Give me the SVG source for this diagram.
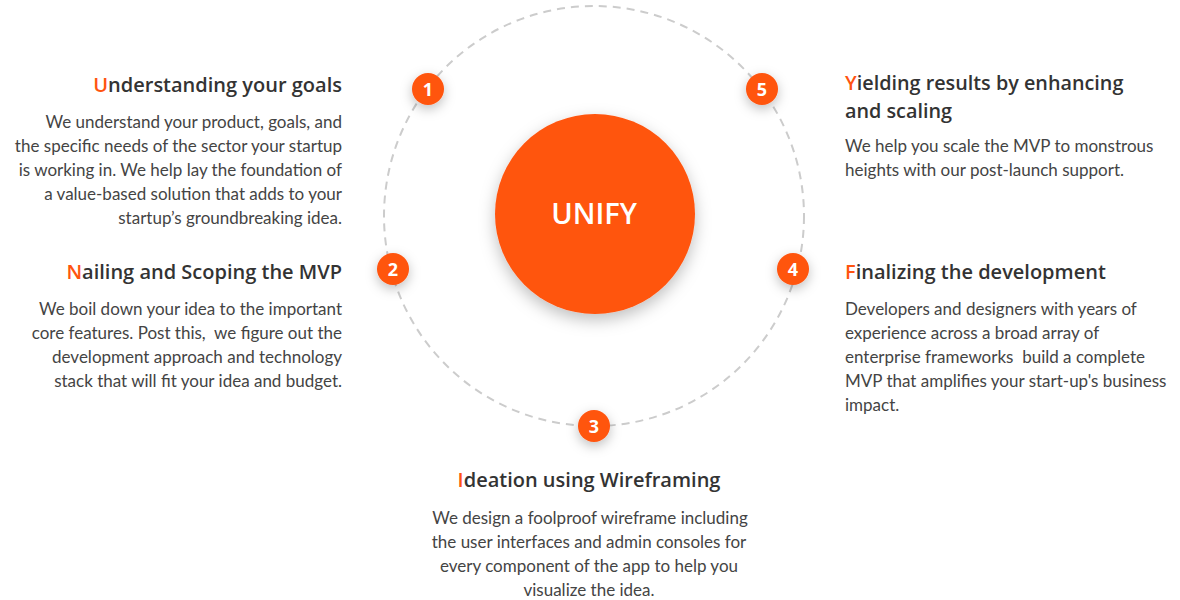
<svg xmlns="http://www.w3.org/2000/svg" width="1180" height="600" viewBox="0 0 1180 600">
<defs>
<filter id="sh" x="-50%" y="-50%" width="200%" height="200%">
<feDropShadow dx="0" dy="4" stdDeviation="6" flood-color="#000" flood-opacity="0.25"/>
</filter>
<filter id="shb" x="-30%" y="-30%" width="160%" height="160%">
<feDropShadow dx="0" dy="6" stdDeviation="8" flood-color="#000" flood-opacity="0.25"/>
</filter>
</defs>
<style>
.h{font-family:"Open Sans",Lato,sans-serif;font-size:20px;font-weight:600;fill:#333}
.o{fill:#ff5410}
.b{font-family:Lato,"Open Sans",sans-serif;font-size:17px;font-weight:400;fill:#444}
.r{text-anchor:end}
.c{text-anchor:middle}
.badge{fill:#ff5410;filter:url(#sh)}
.num{font-family:"Open Sans",Lato,sans-serif;font-size:18px;font-weight:700;fill:#fff;text-anchor:middle}
</style>
<rect width="1180" height="600" fill="#fff"/>
<g id="connectors">
<circle cx="594" cy="216" r="210" fill="none" stroke="#cccccc" stroke-width="2" stroke-dasharray="8 6"/>
</g>
<g id="center">
<circle cx="595" cy="214" r="100" fill="#ff5410" filter="url(#shb)"/>
<text x="594" y="224" font-family="'Open Sans',Lato,sans-serif" font-size="29" font-weight="600" fill="#fff" text-anchor="middle">UNIFY</text>
</g>
<g id="step1">
<circle class="badge" cx="428" cy="89" r="16"/>
<text class="num" x="428" y="95.5">1</text>
<text class="h r" x="342" y="92"><tspan class="o">U</tspan>nderstanding your goals</text>
<text class="b r" x="342" y="128">We understand your product, goals, and</text>
<text class="b r" x="342" y="152">the specific needs of the sector your startup</text>
<text class="b r" x="342" y="176">is working in. We help lay the foundation of</text>
<text class="b r" x="342" y="200">a value-based solution that adds to your</text>
<text class="b r" x="342" y="224">startup’s groundbreaking idea.</text>
</g>
<g id="step2">
<circle class="badge" cx="393" cy="269" r="16"/>
<text class="num" x="393" y="275.5">2</text>
<text class="h r" x="342" y="279"><tspan class="o">N</tspan>ailing and Scoping the MVP</text>
<text class="b r" x="342" y="315">We boil down your idea to the important</text>
<text class="b r" x="342" y="339" xml:space="preserve">core features. Post this,  we figure out the</text>
<text class="b r" x="342" y="363">development approach and technology</text>
<text class="b r" x="342" y="387">stack that will fit your idea and budget.</text>
</g>
<g id="step3">
<circle class="badge" cx="594" cy="426" r="16"/>
<text class="num" x="594" y="432.5">3</text>
<text class="h c" x="589" y="487"><tspan class="o">I</tspan>deation using Wireframing</text>
<text class="b c" x="590" y="524">We design a foolproof wireframe including</text>
<text class="b c" x="589" y="548">the user interfaces and admin consoles for</text>
<text class="b c" x="589" y="572">every component of the app to help you</text>
<text class="b c" x="589" y="596">visualize the idea.</text>
</g>
<g id="step4">
<circle class="badge" cx="793" cy="269" r="16"/>
<text class="num" x="793" y="275.5">4</text>
<text class="h" x="845" y="279"><tspan class="o">F</tspan>inalizing the development</text>
<text class="b" x="845" y="315">Developers and designers with years of</text>
<text class="b" x="845" y="339">experience across a broad array of</text>
<text class="b" x="845" y="363" xml:space="preserve">enterprise frameworks  build a complete</text>
<text class="b" x="845" y="387">MVP that amplifies your start-up's business</text>
<text class="b" x="845" y="411">impact.</text>
</g>
<g id="step5">
<circle class="badge" cx="762" cy="89" r="16"/>
<text class="num" x="762" y="95.5">5</text>
<text class="h" x="845" y="90" font-size="19.8" style="font-size:19.8px"><tspan class="o">Y</tspan>ielding results by enhancing</text>
<text class="h" x="845" y="117.5" style="font-size:19.8px">and scaling</text>
<text class="b" x="845" y="152">We help you scale the MVP to monstrous</text>
<text class="b" x="845" y="176">heights with our post-launch support.</text>
</g>
</svg>
